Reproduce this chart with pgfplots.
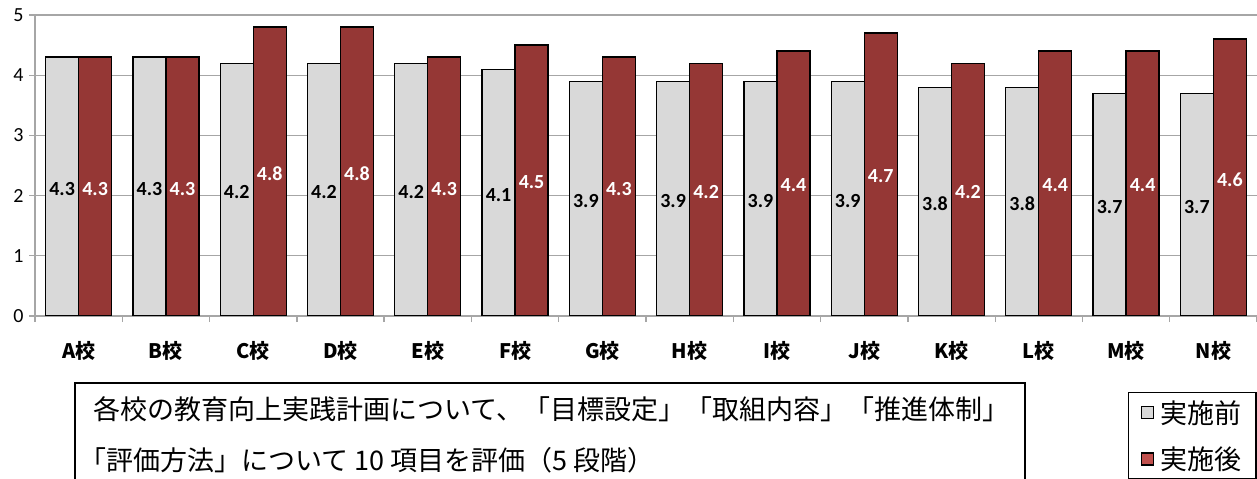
\documentclass[border=0pt]{standalone}
\usepackage{pgfplots}
\pgfplotsset{compat=1.18}
\usepackage{fontspec}
\setmainfont{Carlito}
\newfontfamily\cjk{Noto Sans CJK JP}
\definecolor{barGray}{HTML}{D9D9D9}
\definecolor{barRed}{HTML}{953735}
\definecolor{legRed}{HTML}{C0504D}
\definecolor{gridGray}{HTML}{A6A6A6}
\begin{document}
\begin{tikzpicture}
\useasboundingbox (0,0) rectangle (1257bp,479bp);
\clip (0,0) rectangle (1257bp,479bp);
\begin{axis}[
  at={(35bp,163bp)}, anchor=south west,
  scale only axis, width=1222bp, height=301bp,
  xmin=0, xmax=14, ymin=0, ymax=5,
  ybar=0pt, bar width=33bp,
  axis x line*=bottom, axis y line*=left,
  axis line style={gridGray, line width=1.3bp},
  xtick={0,...,14}, x tick label as interval,
  xticklabels={A校,B校,C校,D校,E校,F校,G校,H校,I校,J校,K校,L校,M校,N校},
  xticklabel style={font=\cjk\bfseries\fontsize{20bp}{22bp}\selectfont, yshift=-16bp},
  ytick={0,...,5},
  yticklabel style={font=\fontsize{20bp}{22bp}\selectfont, xshift=-2bp},
  /pgf/number format/assume math mode=true,
  tick align=outside, major tick length=6bp,
  tick style={gridGray, line width=1.3bp},
  ymajorgrids, major grid style={gridGray, line width=1.3bp},
  visualization depends on=y \as \rawy,
  nodes near coords,
  nodes near coords style={font=\bfseries\fontsize{20bp}{22bp}\selectfont, anchor=center, shift={(axis direction cs:0,-\rawy/2)}, yshift=-2bp},
  legend style={at={(axis description cs:0.8944,-0.2525)}, anchor=north west, draw=black, line width=1.3bp,
    font=\cjk\fontsize{27bp}{30bp}\selectfont, row sep=18bp, inner xsep=12bp, inner ysep=6bp,
    /tikz/every odd column/.append style={column sep=5bp}},
  legend cell align=left,
]
\addplot[fill=barGray, draw=black, line width=1.3bp,
  nodes near coords style={text=black},
  legend image code/.code={\draw[fill=barGray, draw=black, line width=1.3bp] (0bp,-6bp) rectangle (12bp,6bp);}]
  coordinates {(0.5,4.3) (1.5,4.3) (2.5,4.2) (3.5,4.2) (4.5,4.2) (5.5,4.1) (6.5,3.9)
               (7.5,3.9) (8.5,3.9) (9.5,3.9) (10.5,3.8) (11.5,3.8) (12.5,3.7) (13.5,3.7)};
\addplot[fill=barRed, draw=black, line width=1.3bp,
  nodes near coords style={text=white},
  legend image code/.code={\draw[fill=legRed, draw=black, line width=1.3bp] (0bp,-6bp) rectangle (12bp,6bp);}]
  coordinates {(0.5,4.3) (1.5,4.3) (2.5,4.8) (3.5,4.8) (4.5,4.3) (5.5,4.5) (6.5,4.3)
               (7.5,4.2) (8.5,4.4) (9.5,4.7) (10.5,4.2) (11.5,4.4) (12.5,4.4) (13.5,4.6)};
\legend{実施前,実施後}
\end{axis}
\draw[line width=1.5bp] (75bp,96bp) rectangle (1025bp,-10bp);
\node[anchor=base west, inner sep=0, font=\cjk\fontsize{27bp}{30bp}\selectfont] at (93bp,59bp)
  {各校の教育向上実践計画について、「目標設定」「取組内容」「推進体制」};
\node[anchor=base west, inner sep=0, font=\cjk\fontsize{27bp}{30bp}\selectfont] at (79bp,9bp)
  {「評価方法」について 10 項目を評価（5 段階）};
\end{tikzpicture}
\end{document}
